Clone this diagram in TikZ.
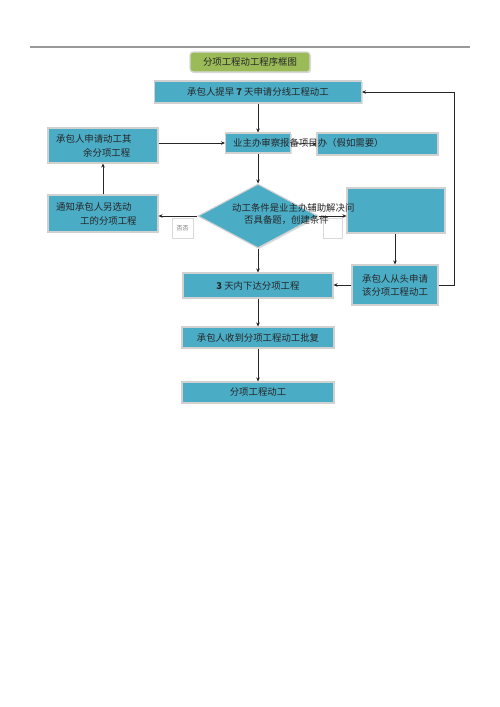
\documentclass[tikz,border=0pt]{standalone}
\usepackage{fontspec}
\newfontfamily\cjk{Noto Sans CJK SC}
\usetikzlibrary{arrows.meta,shapes.geometric,shadows}
\definecolor{tealbox}{RGB}{75,172,198}
\definecolor{greenbox}{RGB}{155,187,89}
\begin{document}
\begin{tikzpicture}[x=1pt,y=-1pt,
  every node/.style={font=\cjk\fontsize{9.4}{11}\selectfont, text=black!85},
  box/.style={draw=black!18, line width=1.1pt, fill=tealbox, inner sep=0pt,
    drop shadow={shadow xshift=1.2pt, shadow yshift=-1.2pt, opacity=0.25}},
  smallbox/.style={draw=black!15, line width=0.6pt, fill=white, inner sep=0pt},
  txt/.style={inner sep=0pt, anchor=west},
  conn/.style={line width=0.6pt, draw=black!85, -{Stealth[length=4pt,width=3.6pt]}},
  line/.style={line width=0.6pt, draw=black!85}]
\useasboundingbox (0,0) rectangle (500,707);
\draw[line width=1.3pt, black!40] (30,47) -- (470,47);
% title
\node[draw=black!15, line width=1.2pt, fill=greenbox, rounded corners=3pt,
  minimum width=120, minimum height=20, inner sep=0pt,
  drop shadow={shadow xshift=1.2pt, shadow yshift=-1.2pt, opacity=0.25}] (title) at (250,62) {分项工程动工程序框图};
% boxes
\node[box, minimum width=207, minimum height=22] (b1) at (258,92) {承包人提早 \textbf{7} 天申请分线工程动工};
\node[box, minimum width=65, minimum height=20] (b2a) at (258,143) {};
\node[box, minimum width=121, minimum height=22] (b2b) at (377.5,144) {};
\node[box, minimum width=110, minimum height=35] (L1) at (103,145.5) {};
\node[box, shape=diamond, minimum width=120, minimum height=64] (dia) at (258,216) {};
\node[box, minimum width=110, minimum height=37] (L2) at (103,213.5) {};
\node[smallbox, minimum width=21, minimum height=20] (s1) at (182.5,228) {};
\node[smallbox, minimum width=19, minimum height=20] (s2) at (332.5,228) {};
\node[box, minimum width=98, minimum height=45] (R1) at (396,210.5) {};
\node[box, minimum width=150, minimum height=25] (b3) at (258,285.5) {\textbf{3} 天内下达分项工程};
\node[box, minimum width=86, minimum height=40] (R2) at (395,285) {};
\node[box, minimum width=152, minimum height=21] (b4) at (258,337.5) {承包人收到分项工程动工批复};
\node[box, minimum width=152, minimum height=21] (b5) at (258,392.5) {分项工程动工};
% connectors
\draw[conn] (b1.south) -- (b2a.north);
\draw[conn] (b2a.south) -- (dia.north);
\draw[conn] (L1.east |- b2a.west) -- (b2a.west);
\draw[conn] (b2a.east) -- (b2b.west);
\draw[conn] (L2.north) -- (L1.south);
\draw[conn] (dia.west) -- (L2.east |- dia.west);
\draw[conn] (dia.east) -- (R1.west |- dia.east);
\draw[conn] (R1.south -| R2.north) -- (R2.north);
\draw[conn] (R2.west) -- (b3.east |- R2.west);
\draw[conn] (dia.south) -- (b3.north);
\coordinate (rc1) at (454,285);
\coordinate (rc2) at (454,92);
\draw[line] (R2.east) -- (rc1) -- (rc2);
\draw[conn] (rc2) -- (b1.east);
\draw[conn] (b3.south) -- (b4.north);
\draw[conn] (b4.south) -- (b5.north);
% texts
\node[txt] (t2) at (233,143) {业主办审察报备项目办（假如需要）};
\node[txt] (tL1a) at (56,139) {承包人申请动工其};
\node[txt] (tL1b) at (83,153) {余分项工程};
\node[txt] (tL2a) at (56,207) {通知承包人另选动};
\node[txt] (tL2b) at (80,221) {工的分项工程};
\node[txt] (td1) at (232,208) {动工条件是业主办辅助解决问};
\node[txt] (td2) at (244,220) {否具备题，创建条件};
\node[inner sep=0pt, font=\cjk\fontsize{6}{7}\selectfont, text=black!55] (tno) at (s1) {否否};
\node[align=center, inner sep=0pt] (tR2) at (R2) {承包人从头申请\\[2pt]该分项工程动工};
\end{tikzpicture}
\end{document}
